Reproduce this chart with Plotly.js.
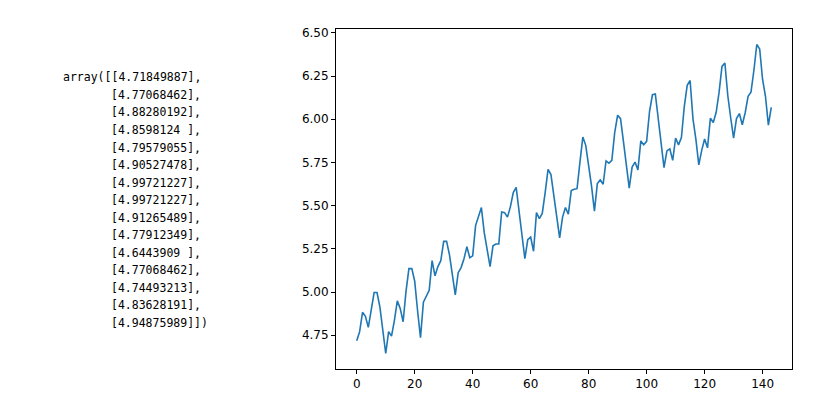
<!DOCTYPE html>
<html>
<head>
<meta charset="utf-8">
<script src="https://cdn.plot.ly/plotly-3.0.1.min.js"></script>
<style>
html,body{margin:0;padding:0;background:#fff;}
#chart{width:816px;height:398px;}
</style>
</head>
<body>
<div id="chart"></div>
<script>
// log of monthly airline passengers, index 0..143
const logValues = [
  4.7185, 4.7707, 4.8828, 4.8598, 4.7958, 4.9053, 4.9972, 4.9972, 4.9127, 4.7791, 4.6444, 4.7707,
  4.7449, 4.8363, 4.9488, 4.9053, 4.8283, 5.0039, 5.1358, 5.1358, 5.0626, 4.8903, 4.7362, 4.9416,
  4.9767, 5.0106, 5.1818, 5.0938, 5.1475, 5.1818, 5.2933, 5.2933, 5.2149, 5.0876, 4.9836, 5.1120,
  5.1417, 5.1930, 5.2627, 5.1985, 5.2095, 5.3845, 5.4381, 5.4889, 5.3423, 5.2523, 5.1475, 5.2679,
  5.2781, 5.2781, 5.4638, 5.4596, 5.4337, 5.4931, 5.5759, 5.6058, 5.4681, 5.3519, 5.1930, 5.3033,
  5.3181, 5.2364, 5.4596, 5.4250, 5.4553, 5.5759, 5.7104, 5.6802, 5.5568, 5.4337, 5.3132, 5.4337,
  5.4889, 5.4510, 5.5872, 5.5947, 5.5984, 5.7526, 5.8972, 5.8493, 5.7430, 5.6131, 5.4681, 5.6276,
  5.6490, 5.6240, 5.7589, 5.7462, 5.7621, 5.9243, 6.0234, 6.0039, 5.8721, 5.7236, 5.6021, 5.7236,
  5.7526, 5.7071, 5.8749, 5.8522, 5.8721, 6.0450, 6.1420, 6.1463, 6.0014, 5.8493, 5.7203, 5.8171,
  5.8289, 5.7621, 5.8916, 5.8522, 5.8944, 6.0753, 6.1964, 6.2246, 6.0014, 5.8833, 5.7366, 5.8201,
  5.8861, 5.8348, 6.0064, 5.9814, 6.0403, 6.1570, 6.3063, 6.3261, 6.1377, 6.0088, 5.8916, 6.0039,
  6.0331, 5.9687, 6.0379, 6.1334, 6.1570, 6.2823, 6.4329, 6.4069, 6.2305, 6.1334, 5.9661, 6.0684
];
const xIndex = logValues.map((_, i) => i);

// printed array text shown on the left
const arrayLines = [
  "array([[4.71849887],",
  "[4.77068462],",
  "[4.88280192],",
  "[4.8598124 ],",
  "[4.79579055],",
  "[4.90527478],",
  "[4.99721227],",
  "[4.99721227],",
  "[4.91265489],",
  "[4.77912349],",
  "[4.6443909 ],",
  "[4.77068462],",
  "[4.74493213],",
  "[4.83628191],",
  "[4.94875989]])"
];

const xTicks = [0, 20, 40, 60, 80, 100, 120, 140];
const yTicks = [4.75, 5.00, 5.25, 5.50, 5.75, 6.00, 6.25, 6.50];

const L = 336, R = 792, T = 29, B = 369;
const W = 816, H = 398;
const px2x = p => (p - L) / (R - L);
const py2y = p => (B - p) / (B - T);

const annotations = arrayLines.map((line, i) => ({
  text: line.replace(/ /g, '&nbsp;'),
  xref: 'paper', yref: 'paper',
  x: px2x(i === 0 ? 60.5 : 109),
  y: py2y(77.3 + i * 17.55),
  xanchor: 'left', yanchor: 'middle',
  showarrow: false,
  font: {family: 'DejaVu Sans Mono', size: 11.5, color: '#000'}
}));

const trace = {
  x: xIndex, y: logValues,
  type: 'scatter', mode: 'lines',
  line: {color: '#1f77b4', width: 1.6},
  hoverinfo: 'skip'
};

const layout = {
  width: W, height: H,
  margin: {l: L, r: W - R, t: T, b: H - B, pad: 0},
  paper_bgcolor: '#fff', plot_bgcolor: '#fff',
  showlegend: false,
  font: {family: 'DejaVu Sans', size: 12, color: '#000'},
  xaxis: {
    range: [-7.15, 150.15],
    tickvals: xTicks, ticktext: xTicks.map(String),
    ticks: 'outside', ticklen: 4, tickwidth: 1, tickcolor: '#000',
    showline: true, linecolor: '#000', linewidth: 1, mirror: true,
    showgrid: false, zeroline: false,
    tickfont: {family: 'DejaVu Sans', size: 12, color: '#000'}
  },
  yaxis: {
    range: [4.5547, 6.5226],
    tickvals: yTicks, ticktext: yTicks.map(v => v.toFixed(2)),
    ticks: 'outside', ticklen: 4, tickwidth: 1, tickcolor: '#000',
    showline: true, linecolor: '#000', linewidth: 1, mirror: true,
    showgrid: false, zeroline: false,
    tickfont: {family: 'DejaVu Sans', size: 12, color: '#000'}
  },
  annotations: annotations
};

Plotly.newPlot('chart', [trace], layout, {staticPlot: true, displayModeBar: false});
</script>
</body>
</html>
